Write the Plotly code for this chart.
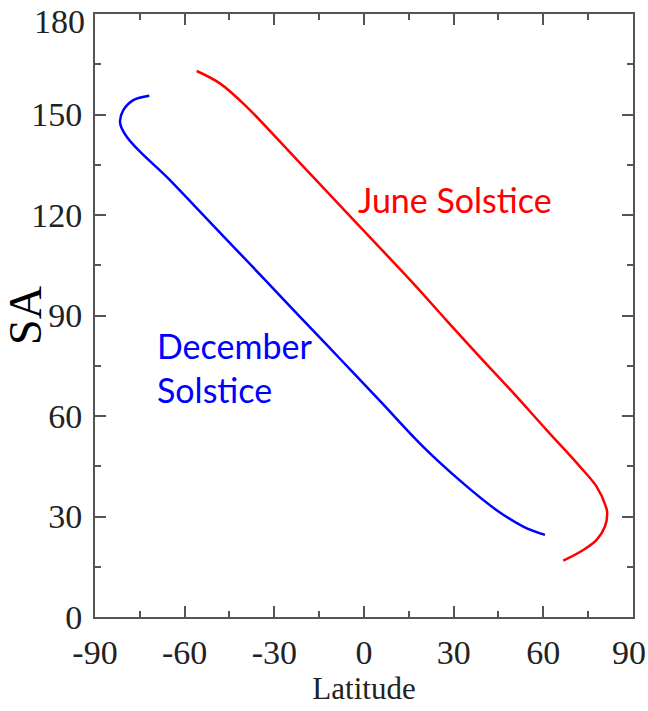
import plotly.graph_objects as go

# June Solstice curve (red)
june_lat = [-55.97, -48.2, -39.25, -28.1, -16.96, -5.79, 5.35, 15.96, 27.67, 38.81,
            49.95, 61.13, 72.27, 77.85, 80.97, 81.4, 80.63, 77.85, 73.37, 66.68]
june_sa = [163.0, 159.3, 152.3, 141.9, 131.3, 120.7, 110.2, 100.1, 88.5, 77.6,
           66.9, 55.8, 44.9, 38.9, 32.9, 31.0, 27.0, 23.0, 20.0, 16.8]

# December Solstice curve (blue)
dec_lat = [-71.83, -77.19, -80.53, -81.64, -81.07, -79.39, -74.94, -66.01, -54.87, -43.73,
           -32.55, -21.41, -8.03, 5.35, 19.84, 33.22, 44.4, 53.3, 60.56]
dec_sa = [155.6, 154.3, 151.3, 147.9, 145.9, 143.4, 138.9, 131.4, 121.0, 110.6,
          100.1, 89.6, 77.1, 64.5, 50.8, 39.9, 31.9, 27.0, 24.5]

x_ticks = [-90, -60, -30, 0, 30, 60, 90]
y_ticks = [0, 30, 60, 90, 120, 150, 180]

# edge labels are drawn as annotations so they stay inside the page
x_ticktext = [str(v) for v in x_ticks[:-1]] + [""]
y_ticktext = [str(v) for v in y_ticks[:-1]] + [""]

fig = go.Figure()
fig.add_trace(go.Scatter(x=june_lat, y=june_sa, mode="lines",
                         line=dict(color="#ff0000", width=2.5, shape="spline", smoothing=1.0),
                         showlegend=False, hoverinfo="skip"))
fig.add_trace(go.Scatter(x=dec_lat, y=dec_sa, mode="lines",
                         line=dict(color="#0000ff", width=2.5, shape="spline", smoothing=1.0),
                         showlegend=False, hoverinfo="skip"))

serif = "Liberation Serif, Times New Roman, serif"
axis_font = dict(family=serif, size=34, color="#222222")

fig.update_layout(
    width=648, height=711,
    margin=dict(l=95, r=15, t=14, b=94),
    plot_bgcolor="white", paper_bgcolor="white",
    xaxis=dict(
        range=[-90, 90.02], tickmode="array", tickvals=x_ticks, ticktext=x_ticktext,
        ticks="inside", ticklen=11, tickwidth=1.5, tickcolor="#555555",
        minor=dict(dtick=15, tick0=-90, ticks="inside", ticklen=6, tickwidth=1.5, tickcolor="#555555"),
        showline=True, linecolor="#555555", linewidth=2, mirror="ticks",
        showgrid=False, zeroline=False, tickfont=axis_font, ticklabelstandoff=4,
        automargin=False, ticklabeloverflow="allow",
        title=dict(text="Latitude", font=dict(family=serif, size=31, color="#222222"), standoff=2),
    ),
    yaxis=dict(
        range=[0, 180.02], tickmode="array", tickvals=y_ticks, ticktext=y_ticktext,
        ticks="inside", ticklen=11, tickwidth=1.5, tickcolor="#555555",
        minor=dict(dtick=15, tick0=0, ticks="inside", ticklen=6, tickwidth=1.5, tickcolor="#555555"),
        showline=True, linecolor="#555555", linewidth=2, mirror="ticks",
        showgrid=False, zeroline=False, tickfont=axis_font, ticklabelstandoff=4,
        automargin=False, ticklabeloverflow="allow",
        title=dict(text="SA", font=dict(family=serif, size=46, color="#000000"), standoff=4),
    ),
    annotations=[
        dict(x=30.4, y=124.5, xref="x", yref="y", text="June Solstice", showarrow=False,
             xanchor="center", yanchor="middle",
             font=dict(family="Lato, Carlito, sans-serif", size=34, color="#ff0000")),
        dict(x=-69.9, y=74.6, xref="x", yref="y", text="December<br>Solstice", showarrow=False,
             xanchor="left", yanchor="middle", align="left",
             font=dict(family="Lato, Carlito, sans-serif", size=34, color="#0000ff")),
        dict(x=0, y=1, xref="paper", yref="paper", text=str(y_ticks[-1]), showarrow=False,
             xanchor="right", yanchor="middle", xshift=-8, yshift=-7,
             font=axis_font),
        dict(x=1, y=0, xref="paper", yref="paper", text=str(x_ticks[-1]), showarrow=False,
             xanchor="center", yanchor="middle", xshift=-4, yshift=-35,
             font=axis_font),
    ],
)

fig.write_html("out.html")
